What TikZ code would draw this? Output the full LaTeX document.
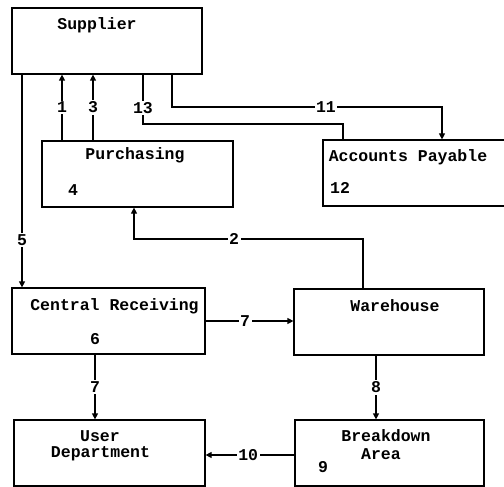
\documentclass[tikz,border=0pt]{standalone}
\usepackage{fontspec}
\setmonofont{Liberation Mono}
\usetikzlibrary{arrows.meta,positioning}

\begin{document}
\begin{tikzpicture}[x=1pt,y=-1pt,>={Triangle[length=6pt,width=6pt]},line width=1.2pt]
  % Global box height and text style
  \def\bh{66pt} % box height
  \tikzset{
    box/.style  = {draw, minimum width=#1, minimum height=\bh, inner sep=0pt},
    ttl/.style  = {font=\ttfamily\bfseries\fontsize{16.5}{19}\selectfont, inner sep=0pt},
    num/.style  = {ttl, fill=white, inner sep=1.5pt}
  }
  \clip (0,0) rectangle (504,487);

  % --- Boxes (pixel grid, y downwards) ---
  \node[box=190pt] (sup) at (107,41)    {};
  \node[box=191pt] (pur) at (137.5,174) {};
  \node[box=190pt] (acc) at (418,173)   {}; % runs past the right edge
  \node[box=193pt] (rec) at (108.5,321) {};
  \node[box=190pt] (war) at (389,322)   {};
  \node[box=191pt] (usr) at (109.5,453) {};
  \node[box=189pt] (brk) at (389.5,453) {};

  % --- Titles and step numbers inside the boxes ---
  \node[ttl] (supT) at (97,25)    {Supplier};
  \node[ttl] (purT) at (135,155)  {Purchasing};
  \node[ttl] (purN) at (73,190)   {4};
  \node[ttl] (accT) at (408,157)  {Accounts Payable};
  \node[ttl] (accN) at (340,188)  {12};
  \node[ttl] (recT) at (114.5,306) {Central Receiving};
  \node[ttl] (recN) at (95,339)   {6};
  \node[ttl] (warT) at (395,306)  {Warehouse};
  \node[ttl] (usrT) at (100,436)  {User};
  \node[ttl] (usrD) at (100.5,454) {Department};
  \node[ttl] (brkT) at (386,436)  {Breakdown};
  \node[ttl] (brkA) at (381,454)  {Area};
  \node[ttl] (brkN) at (323,467)  {9};

  % --- Columns and rows of the connectors ---
  \coordinate (x1)  at (62,0);
  \coordinate (x3)  at (93,0);
  \coordinate (x13) at (143,0);
  \coordinate (x13b) at (343,0);
  \coordinate (x11) at (172,0);
  \coordinate (x11b) at (442,0);
  \coordinate (x5)  at (22,0);
  \coordinate (x2)  at (134,0);
  \coordinate (x2b) at (363,0);
  \coordinate (x7)  at (95,0);
  \coordinate (x8)  at (376,0);
  \coordinate (y13) at (0,124);
  \coordinate (y11) at (0,107);
  \coordinate (y2)  at (0,239);
  \coordinate (y7)  at (0,321);
  \coordinate (y10) at (0,455);

  % --- Connectors ---
  \draw[->] (pur.north -| x1) -- node[num] {1} (sup.south -| x1);
  \draw[->] (pur.north -| x3) -- node[num] {3} (sup.south -| x3);
  \draw (sup.south -| x13) -- node[num, pos=0.68] {13} (x13 |- y13)
        -- (x13b |- y13) -- (acc.north -| x13b);
  \draw[->] (sup.south -| x11) -- (x11 |- y11)
        -- node[num, pos=0.57] {11} (x11b |- y11) -- (acc.north -| x11b);
  \draw[->] (sup.south -| x5) -- node[num, pos=0.776] {5} (rec.north -| x5);
  \draw[->] (war.north -| x2b) -- (x2b |- y2)
        -- node[num, pos=0.563] {2} (x2 |- y2) -- (pur.south -| x2);
  \draw[->] (rec.east |- y7) -- node[num, pos=0.45] {7} (war.west |- y7);
  \draw[->] (rec.south -| x7) -- node[num] {7} (usr.north -| x7);
  \draw[->] (war.south -| x8) -- node[num] {8} (brk.north -| x8);
  \draw[->] (brk.west |- y10) -- node[num, pos=0.52] {10} (usr.east |- y10);
\end{tikzpicture}
\end{document}
